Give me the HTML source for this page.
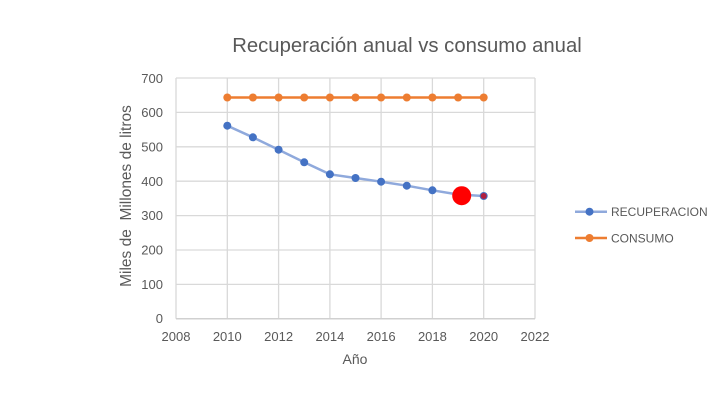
<!DOCTYPE html>
<html><head><meta charset="utf-8"><style>
html,body{margin:0;padding:0;background:#fff;}
svg{display:block;font-family:"Liberation Sans",sans-serif;}
</style></head><body>
<svg width="727" height="406" viewBox="0 0 727 406" xmlns="http://www.w3.org/2000/svg">
<rect width="727" height="406" fill="#fff"/>
<text x="407" y="52" text-anchor="middle" font-size="20.3" fill="#595959">Recuperación anual vs consumo anual</text>
<g stroke="#d9d9d9" stroke-width="1.3">
<line x1="176" y1="78" x2="535" y2="78"/>
<line x1="176" y1="112.4" x2="535" y2="112.4"/>
<line x1="176" y1="146.8" x2="535" y2="146.8"/>
<line x1="176" y1="181.2" x2="535" y2="181.2"/>
<line x1="176" y1="215.6" x2="535" y2="215.6"/>
<line x1="176" y1="250" x2="535" y2="250"/>
<line x1="176" y1="284.4" x2="535" y2="284.4"/>
<line x1="176" y1="78" x2="176" y2="318.8"/>
<line x1="227.3" y1="78" x2="227.3" y2="318.8"/>
<line x1="278.6" y1="78" x2="278.6" y2="318.8"/>
<line x1="329.9" y1="78" x2="329.9" y2="318.8"/>
<line x1="381.1" y1="78" x2="381.1" y2="318.8"/>
<line x1="432.4" y1="78" x2="432.4" y2="318.8"/>
<line x1="483.7" y1="78" x2="483.7" y2="318.8"/>
<line x1="535" y1="78" x2="535" y2="318.8"/>
</g>
<line x1="176" y1="318.8" x2="535" y2="318.8" stroke="#d0d0d0" stroke-width="1.5"/>
<g font-size="13" fill="#595959" text-anchor="end">
<text x="163" y="83">700</text>
<text x="163" y="117">600</text>
<text x="163" y="151.5">500</text>
<text x="163" y="186">400</text>
<text x="163" y="220">300</text>
<text x="163" y="254.5">200</text>
<text x="163" y="289">100</text>
<text x="163" y="323">0</text>
</g>
<g font-size="13" fill="#595959" text-anchor="middle">
<text x="176" y="341">2008</text>
<text x="227.3" y="341">2010</text>
<text x="278.6" y="341">2012</text>
<text x="329.9" y="341">2014</text>
<text x="381.1" y="341">2016</text>
<text x="432.4" y="341">2018</text>
<text x="483.7" y="341">2020</text>
<text x="535" y="341">2022</text>
</g>
<text x="355" y="364" text-anchor="middle" font-size="14" fill="#595959">Año</text>
<text transform="translate(131,196) rotate(-90)" text-anchor="middle" font-size="15.5" fill="#595959" xml:space="preserve">Miles de  Millones de litros</text>
<!-- consumo -->
<polyline points="227.3,97.5 483.7,97.5" fill="none" stroke="#ed7d31" stroke-width="2.5"/>
<g fill="#ed7d31">
<circle cx="227.3" cy="97.5" r="4"/><circle cx="252.9" cy="97.5" r="4"/><circle cx="278.6" cy="97.5" r="4"/><circle cx="304.2" cy="97.5" r="4"/><circle cx="329.9" cy="97.5" r="4"/><circle cx="355.5" cy="97.5" r="4"/><circle cx="381.1" cy="97.5" r="4"/><circle cx="406.8" cy="97.5" r="4"/><circle cx="432.4" cy="97.5" r="4"/><circle cx="458.1" cy="97.5" r="4"/><circle cx="483.7" cy="97.5" r="4"/>
</g>
<!-- recuperacion -->
<polyline points="227.3,125.7 252.9,137.3 278.6,149.7 304.2,162.3 329.9,174.3 355.5,178 381.1,181.7 406.8,185.7 432.4,190.3 458.1,194.5 483.7,196" fill="none" stroke="#8fa9dc" stroke-width="2.5"/>
<g fill="#4472c4">
<circle cx="227.3" cy="125.7" r="4"/><circle cx="252.9" cy="137.3" r="4"/><circle cx="278.6" cy="149.7" r="4"/><circle cx="304.2" cy="162.3" r="4"/><circle cx="329.9" cy="174.3" r="4"/><circle cx="355.5" cy="178" r="4"/><circle cx="381.1" cy="181.7" r="4"/><circle cx="406.8" cy="185.7" r="4"/><circle cx="432.4" cy="190.3" r="4"/><circle cx="458.1" cy="194.5" r="4"/>
</g>
<circle cx="483.7" cy="196" r="4" fill="#4472c4"/>
<circle cx="483.7" cy="196" r="3" fill="#b02040"/>
<circle cx="461.7" cy="195.7" r="9.5" fill="#ff0000"/>
<!-- legend -->
<line x1="575" y1="211.7" x2="607" y2="211.7" stroke="#8fa9dc" stroke-width="2.5"/>
<circle cx="589.5" cy="211.7" r="4" fill="#4472c4"/>
<text x="611" y="216" font-size="12" fill="#595959">RECUPERACION</text>
<line x1="575" y1="238" x2="607" y2="238" stroke="#ed7d31" stroke-width="2.5"/>
<circle cx="589.5" cy="238" r="4" fill="#ed7d31"/>
<text x="611" y="242.5" font-size="12" fill="#595959">CONSUMO</text>
</svg>
</body></html>
